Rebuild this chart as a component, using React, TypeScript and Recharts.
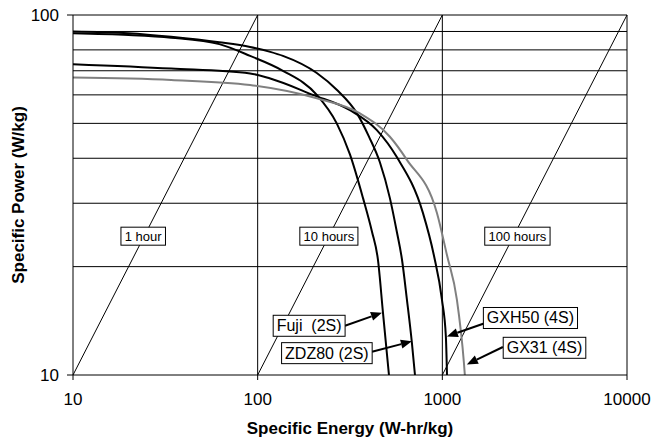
// Ragone plot: specific power vs specific energy, log-log, with discharge-time lines

import { useLayoutEffect, useRef, useState } from 'react'
import { LineChart, Line, XAxis, YAxis, ReferenceLine, ReferenceDot } from 'recharts'

// curve values (W-hr/kg, W/kg)
const fujiEnergy = [10, 20, 34, 62, 91, 137, 209, 268, 316, 372, 416, 448, 477, 514]
const fujiPower = [89, 88, 86.5, 83, 77, 70, 60, 50, 41, 31, 25, 20.9, 14.9, 10]

const zdzEnergy = [10, 20, 34, 62, 91, 117, 137, 209, 268, 345, 400, 459, 520, 567, 604, 643, 684, 711]
const zdzPower = [90, 89, 87, 84, 81.5, 79, 77, 69, 62, 53.3, 46, 39, 31, 25, 21, 16.2, 12.3, 10]

const gxh50Energy = [10, 34, 91, 117, 199, 316, 442, 567, 785, 900, 995, 1045, 1060]
const gxh50Power = [73, 71, 68.8, 66.6, 60, 54.4, 47.9, 40.3, 28.2, 21.5, 16.2, 12.8, 10]

const gx31Energy = [10, 34, 91, 209, 358, 520, 643, 935, 1060, 1199, 1309, 1324]
const gx31Power = [67, 66, 63.9, 58.7, 53.3, 45.9, 39.6, 28.2, 21.5, 16.2, 10.8, 10]

const energyTicks = [10, 100, 1000, 10000]
const powerTicks = [10, 100]
const powerGrid = [20, 30, 40, 50, 60, 70, 80, 90]
const energyGrid = [100, 1000]

// discharge time lines, P = E / hours
const hourLines = [1, 10, 100]
const hourLabels = ['1 hour', '10 hours', '100 hours']
const hourLabelEnergy = [24, 243, 2550]
const hourLabelPower = 24.3

// curve callouts: label anchor and arrow (from -> to) in data units
const curveNames = ['Fuji  (2S)', 'ZDZ80 (2S)', 'GXH50 (4S)', 'GX31 (4S)']
const calloutEnergy = [190, 237, 3000, 3575]
const calloutPower = [13.7, 11.5, 14.4, 11.9]
const arrowFrom = [[297, 13.7], [416, 11.6], [1679, 13.9], [2128, 11.96]]
const arrowTo = [[471, 14.9], [684, 12.4], [1059, 12.8], [1358, 10.7]]

const zip = (e: number[], p: number[]) => e.map((v, i) => ({ e: v, p: p[i] }))

const series = [
  { name: 'Fuji (2S)', data: zip(fujiEnergy, fujiPower), color: '#000' },
  { name: 'ZDZ80 (2S)', data: zip(zdzEnergy, zdzPower), color: '#000' },
  { name: 'GXH50 (4S)', data: zip(gxh50Energy, gxh50Power), color: '#000' },
  { name: 'GX31 (4S)', data: zip(gx31Energy, gx31Power), color: '#808080' },
]

const FONT = '"Liberation Sans", Arial, sans-serif'

function BoxLabel({ cx, cy, text, size }: { cx?: number; cy?: number; text: string; size: number }) {
  const ref = useRef<SVGTextElement>(null)
  const [w, setW] = useState(text.length * size * 0.55)
  useLayoutEffect(() => {
    if (ref.current) setW(ref.current.getBBox().width)
  }, [text, size])
  if (cx == null || cy == null) return null
  const h = size + 5
  return (
    <g>
      <rect x={cx - w / 2 - 3.5} y={cy - h / 2} width={w + 7} height={h} fill="#fff" stroke="#000" strokeWidth={1} />
      <text
        ref={ref}
        x={cx}
        y={cy}
        textAnchor="middle"
        dominantBaseline="central"
        fontSize={size}
        fontFamily={FONT}
        fill="#000"
        style={{ whiteSpace: 'pre' }}
      >
        {text}
      </text>
    </g>
  )
}

function Arrow(props: any) {
  const { x1, y1, x2, y2 } = props
  const dx = x2 - x1
  const dy = y2 - y1
  const len = Math.sqrt(dx * dx + dy * dy) || 1
  const ux = dx / len
  const uy = dy / len
  const head = 11
  const half = 4.5
  const bx = x2 - ux * head
  const by = y2 - uy * head
  return (
    <g>
      <line x1={x1} y1={y1} x2={bx} y2={by} stroke="#000" strokeWidth={2} />
      <polygon
        points={`${x2},${y2} ${bx - uy * half},${by + ux * half} ${bx + uy * half},${by - ux * half}`}
        fill="#000"
      />
    </g>
  )
}

export default function App() {
  return (
    // absolute so the page never scrolls (body margin would add a scrollbar)
    <div style={{ position: 'absolute', left: 0, top: 0, width: 652, height: 437, fontFamily: FONT }}>
      <LineChart
        width={652}
        height={437}
        margin={{ top: 15, right: 25, bottom: 22, left: 18 }}
        style={{ fontFamily: FONT }}
      >
        <XAxis
          type="number"
          dataKey="e"
          scale="log"
          domain={[10, 10000]}
          ticks={energyTicks}
          allowDataOverflow
          height={40}
          tickSize={5}
          tickMargin={13}
          stroke="#000"
          fontSize={17}
          tick={{ fill: '#000', fontSize: 17, fontFamily: FONT }}
          label={{
            content: (p: any) => {
              const vb = p.viewBox || {}
              return (
                <text
                  x={vb.x + vb.width / 2}
                  y={vb.y + vb.height + 13}
                  textAnchor="middle"
                  dominantBaseline="central"
                  fontSize={17}
                  fontWeight="bold"
                  fontFamily={FONT}
                  fill="#000"
                >
                  Specific Energy (W-hr/kg)
                </text>
              )
            },
          }}
        />
        <YAxis
          type="number"
          dataKey="p"
          scale="log"
          domain={[10, 100]}
          ticks={powerTicks}
          allowDataOverflow
          width={55}
          tickSize={6}
          tickMargin={8}
          stroke="#000"
          fontSize={17}
          tick={{ fill: '#000', fontSize: 17, fontFamily: FONT }}
          label={{
            content: (p: any) => {
              const vb = p.viewBox || {}
              const x = vb.x
              const y = vb.y + vb.height / 2
              return (
                <text
                  x={x}
                  y={y}
                  transform={`rotate(-90 ${x} ${y})`}
                  textAnchor="middle"
                  dominantBaseline="central"
                  fontSize={17}
                  fontWeight="bold"
                  fontFamily={FONT}
                  fill="#000"
                >
                  Specific Power (W/kg)
                </text>
              )
            },
          }}
        />

        {/* grid */}
        {powerGrid.map((v) => (
          <ReferenceLine key={`h${v}`} y={v} stroke="#000" strokeWidth={1} ifOverflow="visible" />
        ))}
        {energyGrid.map((v) => (
          <ReferenceLine key={`v${v}`} x={v} stroke="#000" strokeWidth={1} ifOverflow="visible" />
        ))}
        <ReferenceLine y={100} stroke="#000" ifOverflow="visible" />
        <ReferenceLine x={10000} stroke="#000" ifOverflow="visible" />

        {/* hour lines */}
        {hourLines.map((t) => (
          <ReferenceLine
            key={`t${t}`}
            segment={[{ x: 10 * t, y: 10 }, { x: 100 * t, y: 100 }]}
            stroke="#000"
            strokeWidth={1}
            ifOverflow="visible"
          />
        ))}

        {series.map((s) => (
          <Line
            key={s.name}
            data={s.data}
            dataKey="p"
            type="monotone"
            stroke={s.color}
            strokeWidth={2}
            dot={false}
            activeDot={false}
            isAnimationActive={false}
          />
        ))}

        {hourLabels.map((txt, i) => (
          <ReferenceDot
            key={txt}
            x={hourLabelEnergy[i]}
            y={hourLabelPower}
            ifOverflow="visible"
            shape={(p: any) => <BoxLabel cx={p.cx} cy={p.cy} text={txt} size={13} />}
          />
        ))}

        {curveNames.map((txt, i) => (
          <ReferenceLine
            key={`a${i}`}
            segment={[
              { x: arrowFrom[i][0], y: arrowFrom[i][1] },
              { x: arrowTo[i][0], y: arrowTo[i][1] },
            ]}
            ifOverflow="visible"
            shape={(p: any) => <Arrow {...p} />}
          />
        ))}

        {curveNames.map((txt, i) => (
          <ReferenceDot
            key={txt}
            x={calloutEnergy[i]}
            y={calloutPower[i]}
            ifOverflow="visible"
            shape={(p: any) => <BoxLabel cx={p.cx} cy={p.cy} text={txt} size={16} />}
          />
        ))}
      </LineChart>
    </div>
  )
}
